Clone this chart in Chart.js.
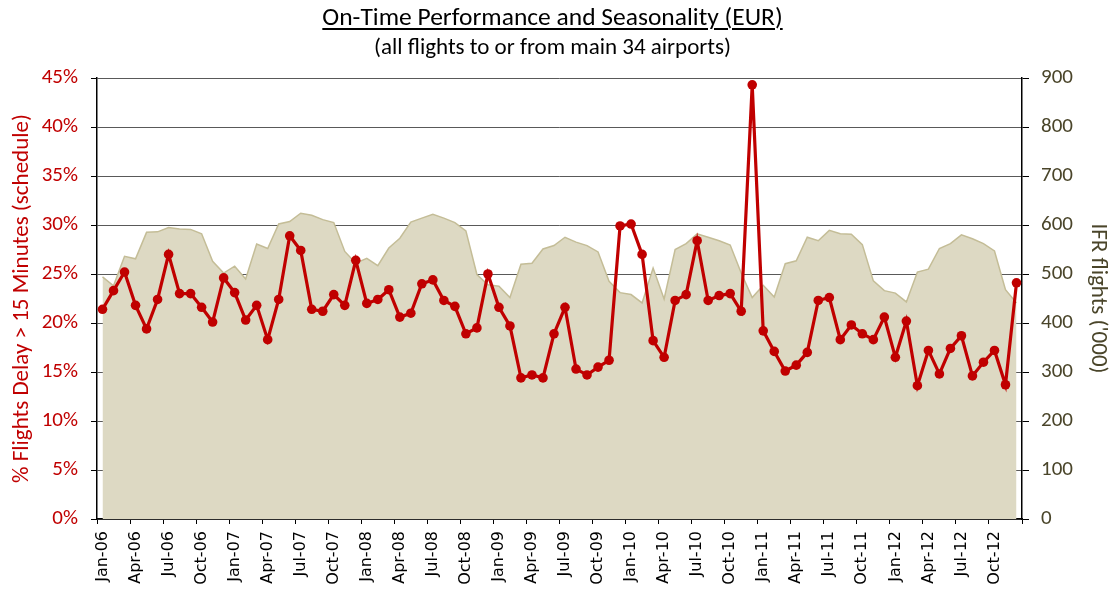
<!DOCTYPE html>
<html>
<head>
<meta charset="utf-8">
<script src="https://cdn.jsdelivr.net/npm/chart.js@4"></script>
<style>
  html, body { margin: 0; padding: 0; background: #fff; }
  #wrap { position: relative; width: 1114px; height: 592px; }
  #title { position: absolute; left: 0; width: 1105px; top: 2px; text-align: center;
    font-family: Calibri, Carlito, Lato, sans-serif; color: #000; }
  #title .main { font-size: 25.5px; text-decoration: underline; text-decoration-thickness: 1.5px; text-underline-offset: 3px; line-height: 30px; }
  #title .sub { font-size: 23px; line-height: 28px; }
  canvas { position: absolute; left: 0; top: 0; }
</style>
</head>
<body>
<div id="wrap">
  <canvas id="chart" width="1114" height="592"></canvas>
  <div id="title">
    <div class="main">On-Time Performance and Seasonality (EUR)</div>
    <div class="sub">(all flights to or from main 34 airports)</div>
  </div>
</div>
<script>
// monthly categories, Jan-06 .. Dec-12
const months = [
  'Jan-06','Feb-06','Mar-06','Apr-06','May-06','Jun-06','Jul-06','Aug-06','Sep-06','Oct-06','Nov-06','Dec-06',
  'Jan-07','Feb-07','Mar-07','Apr-07','May-07','Jun-07','Jul-07','Aug-07','Sep-07','Oct-07','Nov-07','Dec-07',
  'Jan-08','Feb-08','Mar-08','Apr-08','May-08','Jun-08','Jul-08','Aug-08','Sep-08','Oct-08','Nov-08','Dec-08',
  'Jan-09','Feb-09','Mar-09','Apr-09','May-09','Jun-09','Jul-09','Aug-09','Sep-09','Oct-09','Nov-09','Dec-09',
  'Jan-10','Feb-10','Mar-10','Apr-10','May-10','Jun-10','Jul-10','Aug-10','Sep-10','Oct-10','Nov-10','Dec-10',
  'Jan-11','Feb-11','Mar-11','Apr-11','May-11','Jun-11','Jul-11','Aug-11','Sep-11','Oct-11','Nov-11','Dec-11',
  'Jan-12','Feb-12','Mar-12','Apr-12','May-12','Jun-12','Jul-12','Aug-12','Sep-12','Oct-12','Nov-12','Dec-12'
];

// % flights delayed > 15 min (left axis)
const delayPct = [
  21.4, 23.3, 25.2, 21.8, 19.4, 22.4, 27.0, 23.0, 23.0, 21.6, 20.1, 24.6,
  23.1, 20.3, 21.8, 18.3, 22.4, 28.9, 27.4, 21.4, 21.2, 22.9, 21.8, 26.4,
  22.0, 22.4, 23.4, 20.6, 21.0, 24.0, 24.4, 22.3, 21.7, 18.9, 19.5, 25.0,
  21.6, 19.7, 14.4, 14.7, 14.4, 18.9, 21.6, 15.3, 14.7, 15.5, 16.2, 29.9,
  30.1, 27.0, 18.2, 16.5, 22.3, 22.9, 28.4, 22.3, 22.8, 23.0, 21.2, 44.3,
  19.2, 17.1, 15.1, 15.7, 17.0, 22.3, 22.6, 18.3, 19.8, 18.9, 18.3, 20.6,
  16.5, 20.2, 13.6, 17.2, 14.8, 17.4, 18.7, 14.6, 16.0, 17.2, 13.7, 24.1
];

// IFR flights, thousands (right axis)
const ifrFlights = [
  494, 476, 536, 531, 585, 586, 595, 592, 591, 582, 526, 502,
  516, 490, 561, 552, 602, 607, 624, 620, 611, 605, 546, 522,
  532, 517, 553, 573, 606, 614, 622, 614, 605, 588, 499, 478,
  475, 452, 520, 522, 551, 558, 575, 565, 558, 545, 485, 462,
  458, 441, 512, 449, 550, 562, 582, 575, 568, 559, 502, 452,
  477, 453, 521, 527, 575, 568, 589, 582, 581, 560, 486, 466,
  461, 443, 504, 510, 552, 562, 580, 572, 562, 547, 468, 441
];

const leftTicks = [0, 5, 10, 15, 20, 25, 30, 35, 40, 45];
const rightTicks = [0, 100, 200, 300, 400, 500, 600, 700, 800, 900];

const red = '#C00000';
const olive = '#4A452A';
const uiFont = 'Calibri, Carlito, Lato, sans-serif';

new Chart(document.getElementById('chart'), {
  type: 'line',
  data: {
    labels: months,
    datasets: [{
      label: '% Flights Delay > 15 Minutes',
      data: delayPct,
      yAxisID: 'y',
      borderColor: red,
      backgroundColor: red,
      borderWidth: 3.2,
      pointRadius: 4.8,
      pointBorderWidth: 0,
      pointBackgroundColor: red,
      tension: 0,
      order: 0
    }, {
      label: 'IFR flights',
      data: ifrFlights,
      yAxisID: 'y1',
      borderColor: '#C4BD97',
      backgroundColor: '#DDD9C3',
      borderWidth: 1.5,
      pointRadius: 0,
      fill: 'origin',
      tension: 0,
      order: 1
    }]
  },
  options: {
    responsive: false,
    animation: false,
    layout: { padding: { top: 78, left: 0, right: 0, bottom: 0 } },
    plugins: {
      legend: { display: false },
      tooltip: { enabled: false }
    },
    scales: {
      x: {
        type: 'category',
        offset: true,
        afterFit: (s) => { s.height = 73; },
        grid: {
          offset: true,
          drawOnChartArea: false,
          tickLength: 5,
          tickColor: (ctx) => (ctx.type !== 'tick' || ctx.index % 3 === 0) ? '#000' : 'rgba(0,0,0,0)'
        },
        border: { color: '#000', width: 1.5 },
        ticks: {
          autoSkip: false,
          maxRotation: 90,
          minRotation: 90,
          padding: 7,
          color: '#000',
          font: { family: "'DejaVu Sans', Verdana, sans-serif", size: 16 },
          callback: function (v, i) { return i % 3 === 0 ? months[i] : ''; }
        }
      },
      y: {
        position: 'left',
        min: 0,
        max: 45,
        afterFit: (s) => { s.width = 97; },
        afterBuildTicks: (s) => { s.ticks = leftTicks.map(v => ({ value: v })); },
        grid: { color: '#595959', lineWidth: 1, tickLength: 6, tickColor: '#000' },
        border: { color: '#000', width: 1.5 },
        ticks: {
          color: red,
          padding: 13,
          font: { family: uiFont, size: 21 },
          callback: (v) => v + '%'
        },
        title: {
          display: true,
          text: '% Flights Delay > 15 Minutes (schedule)',
          color: red,
          font: { family: uiFont, size: 23, lineHeight: 1.2 },
          padding: { top: 8, bottom: 0 }
        }
      },
      y1: {
        position: 'right',
        min: 0,
        max: 900,
        afterFit: (s) => { s.width = 92; },
        afterBuildTicks: (s) => { s.ticks = rightTicks.map(v => ({ value: v })); },
        grid: { drawOnChartArea: false, tickLength: 7, tickColor: '#000' },
        border: { color: '#000', width: 1.5 },
        ticks: {
          color: olive,
          padding: 12,
          font: { family: uiFont, size: 21 }
        },
        title: {
          display: true,
          text: "IFR flights ('000)",
          color: olive,
          font: { family: uiFont, size: 23, lineHeight: 1.2 },
          padding: { top: 2, bottom: 0 }
        }
      }
    }
  }
});
</script>
</body>
</html>
